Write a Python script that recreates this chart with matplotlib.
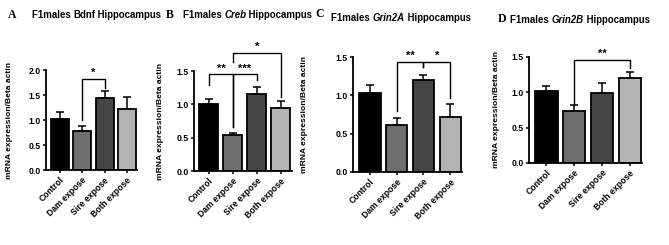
import numpy as np
import matplotlib
matplotlib.use("Agg")
import matplotlib.pyplot as plt

plt.rcParams["font.family"] = ["Liberation Sans", "DejaVu Sans"]
plt.rcParams["font.weight"] = "bold"

groups = ["Control", "Dam expose", "Sire expose", "Both expose"]
colors = ["#000000", "#6e6e6e", "#454545", "#b3b3b3"]

bdnf_mean = [1.03, 0.79, 1.44, 1.23]
bdnf_err = [0.13, 0.10, 0.15, 0.23]
creb_mean = [1.01, 0.535, 1.16, 0.945]
creb_err = [0.07, 0.04, 0.10, 0.11]
grin2a_mean = [1.025, 0.614, 1.205, 0.713]
grin2a_err = [0.11, 0.085, 0.065, 0.175]
grin2b_mean = [1.015, 0.736, 0.994, 1.205]
grin2b_err = [0.075, 0.09, 0.13, 0.08]

# brackets: (i, j, height, left leg end, right leg end, label)
bdnf_sig = [(1, 2, 1.83, 1.0, 1.64, "*")]
creb_sig = [(0, 1, 1.45, 1.29, 0.66, "**"), (1, 2, 1.45, 0.66, 1.36, "***"),
            (1, 3, 1.775, 1.64, 1.11, "*")]
grin2a_sig = [(1, 2, 1.435, 0.79, 1.37, "**"), (2, 3, 1.435, 1.37, 0.96, "*")]
grin2b_sig = [(1, 3, 1.46, 0.82, 1.34, "**")]

panels = [
    ("A", "Bdnf", False, bdnf_mean, bdnf_err, bdnf_sig, 2.0, [0.0688, 0.306, 0.136, 0.408],
     12, 15, 32, 15, 10),
    ("B", "Creb", True, creb_mean, creb_err, creb_sig, 1.5, [0.290, 0.302, 0.146, 0.408],
     170, 15, 183, 15, 160),
    ("C", "Grin2A", True, grin2a_mean, grin2a_err, grin2a_sig, 1.5, [0.528, 0.298, 0.163, 0.469],
     320, 14, 331, 18, 305),
    ("D", "Grin2B", True, grin2b_mean, grin2b_err, grin2b_sig, 1.5, [0.791, 0.335, 0.169, 0.433],
     502, 19, 510, 20, 497),
]

W, H = 669, 245
fig = plt.figure(figsize=(W / 100, H / 100), dpi=100)
renderer = fig.canvas.get_renderer()


def title_parts(x, y, parts):
    for txt, style in parts:
        t = fig.text(x / W, 1 - y / H, txt, fontsize=6.9, fontweight="bold",
                     fontstyle=style, va="center", ha="left")
        bb = t.get_window_extent(renderer)
        x += bb.width


for letter, gene, ital, mean, err, sig, ymax, rect, lx, ly, tx, ty, ylx in panels:
    ax = fig.add_axes(rect)
    x = np.arange(len(groups))
    ax.bar(x, mean, width=0.8, color=colors, edgecolor="black", linewidth=1.3, zorder=2)
    ax.errorbar(x, mean, yerr=[np.zeros(4), err], fmt="none", ecolor="black",
                elinewidth=1.1, capsize=2.8, capthick=1.1, zorder=1)
    ax.set_xlim(-0.62, 3.45)
    ax.set_ylim(0, ymax)
    ticks = np.arange(0, ymax + 0.01, 0.5)
    ax.set_yticks(ticks)
    ax.set_yticklabels(["%.1f" % v for v in ticks])
    ax.set_xticks(x)
    ax.set_xticklabels(groups, rotation=45, ha="right", rotation_mode="anchor")
    ax.tick_params(labelsize=6.2, width=1.1, length=2.5, pad=1.5)
    for lab in ax.get_xticklabels() + ax.get_yticklabels():
        lab.set_fontweight("bold")
    for s in ["top", "right"]:
        ax.spines[s].set_visible(False)
    for s in ["left", "bottom"]:
        ax.spines[s].set_linewidth(1.3)
    for i, j, h, li, lj, lab in sig:
        ax.plot([i, i, j, j], [li, h, h, lj], color="black", lw=1.0, clip_on=False)
        ax.text((i + j) / 2, h + 0.01 * ymax, lab, ha="center", va="bottom",
                fontsize=8, fontweight="bold", clip_on=False)
    ymid = rect[1] + rect[3] / 2
    fig.text(ylx / W, ymid, "mRNA expression/Beta actin", rotation=90, ha="center",
             va="center", fontsize=6.1, fontweight="bold")
    fig.text(lx / W, 1 - ly / H, letter, family="Liberation Serif", fontsize=8.5,
             fontweight="bold", va="center", ha="center")
    title_parts(tx, ty, [("F1males ", "normal"), (gene, "italic" if ital else "normal"),
                         (" Hippocampus", "normal")])

fig.savefig("out.png", dpi=100)
